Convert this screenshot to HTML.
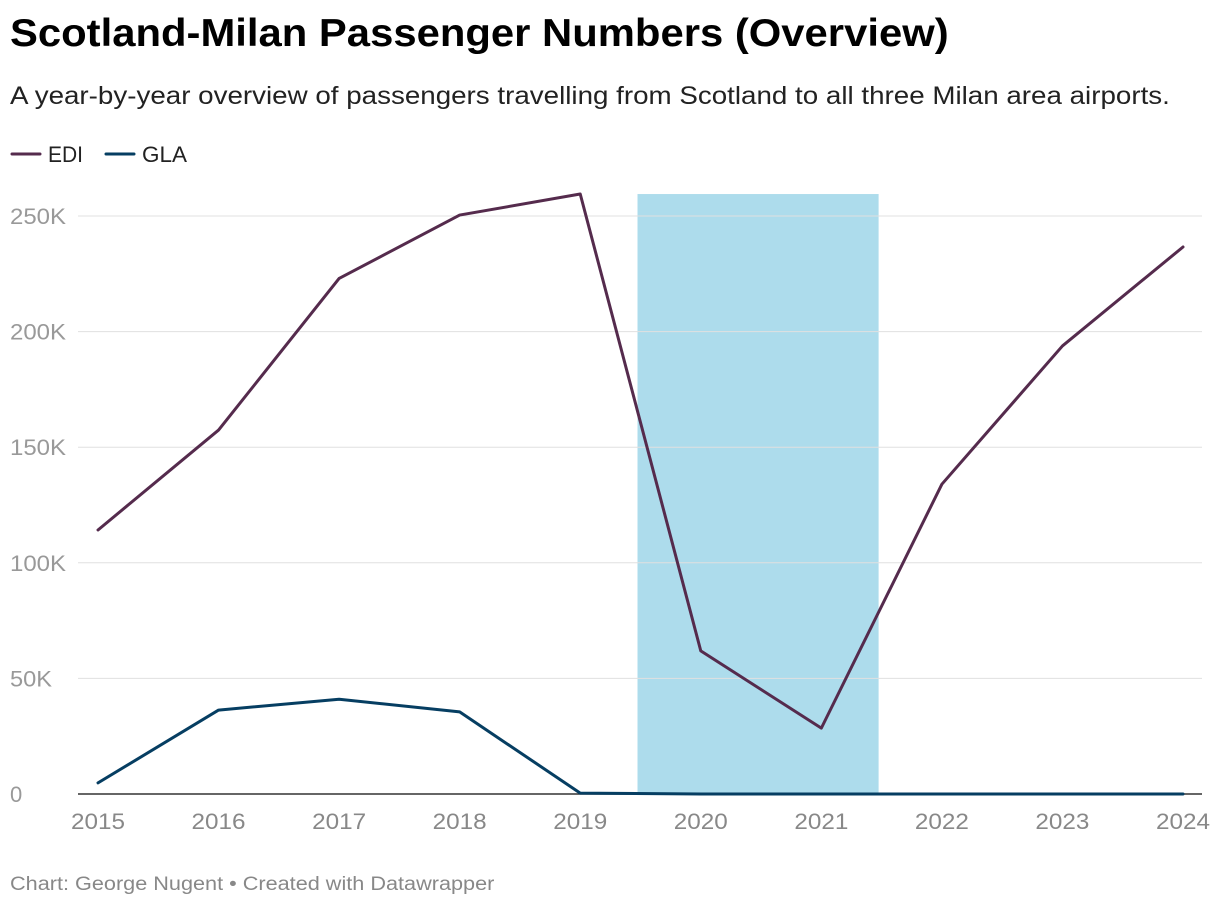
<!DOCTYPE html>
<html><head><meta charset="utf-8"><style>
body{margin:0;width:1220px;height:910px;background:#fff;font-family:"Liberation Sans",sans-serif;overflow:hidden;position:relative}
.t,.s,.f{position:absolute;left:10px;transform-origin:0 0;white-space:nowrap}
.t{top:12px;font-size:39px;font-weight:bold;color:#000;transform:scaleX(1.072)}
.s{top:82px;font-size:25px;color:#222;transform:scaleX(1.11)}
.f{top:874px;font-size:19px;color:#888;transform:scaleX(1.14)}
svg{position:absolute;left:0;top:0}
</style></head><body>
<div class="t">Scotland-Milan Passenger Numbers (Overview)</div>
<div class="s">A year-by-year overview of passengers travelling from Scotland to all three Milan area airports.</div>
<div class="f">Chart: George Nugent • Created with Datawrapper</div>
<svg id="c" width="1220" height="910"></svg>
<script>
const years=[2015,2016,2017,2018,2019,2020,2021,2022,2023,2024];
const edi=[114200,157400,223000,250400,259500,61900,28500,134000,193800,236600];
const gla=[4800,36300,41000,35500,400,0,0,0,0,0];
const yTicks=[0,50000,100000,150000,200000,250000];
const yLabels=["0","50K","100K","150K","200K","250K"];
const shade=[2019.5,2021.5];
const NS="http://www.w3.org/2000/svg";
const svg=document.getElementById('c');
const x=v=>98+(v-2015)*(1183-98)/9;
const y=v=>794-v*(794-216)/250000;
function el(t,a,p){const e=document.createElementNS(NS,t);for(const k in a)e.setAttribute(k,a[k]);(p||svg).appendChild(e);return e;}
const topY=y(Math.max(...edi));
const sh=el('rect',{x:x(shade[0])-3,y:topY,width:x(shade[1])-x(shade[0]),height:y(0)-topY,fill:'#addcec'});


yTicks.forEach((v,i)=>{
 if(v>0){const g=el('line',{x1:78,x2:1202,y1:y(v),y2:y(v),stroke:'#e0e0e0','stroke-width':1});
 
 }
 const a={x:10,y:y(v)+8,'font-size':22,fill:'#999'};
 if(yLabels[i].length>1){a.textLength=yLabels[i].length*14;a.lengthAdjust='spacingAndGlyphs';}
 const t=el('text',a);t.textContent=yLabels[i];
 
 
});
const b=el('line',{x1:78,x2:1202,y1:y(0),y2:y(0),stroke:'#333','stroke-width':1.5});


years.forEach(yr=>{const t=el('text',{x:x(yr)-27,y:829,'font-size':22,fill:'#888',textLength:54,lengthAdjust:'spacingAndGlyphs'});t.textContent=yr;
 
 });
function line(d,c,n){const p=el('polyline',{points:d.map((v,i)=>x(years[i])+','+y(v)).join(' '),fill:'none',stroke:c,'stroke-width':3,'stroke-linejoin':'round','stroke-linecap':'round'});
 
 }
line(gla,'#063e62','line-gla');
line(edi,'#552b4d','line-edi');
[['EDI','#552b4d',10,35],['GLA','#063e62',104,45]].forEach(([n,c,lx,w])=>{
 const g=el('g',{});
 
 
 el('line',{x1:lx+2,x2:lx+30,y1:154,y2:154,stroke:c,'stroke-width':3,'stroke-linecap':'round'},g);
 const t=el('text',{x:lx+38,y:162,'font-size':22,fill:'#222',textLength:w,lengthAdjust:'spacingAndGlyphs'},g);t.textContent=n;
});
</script>
</body></html>
